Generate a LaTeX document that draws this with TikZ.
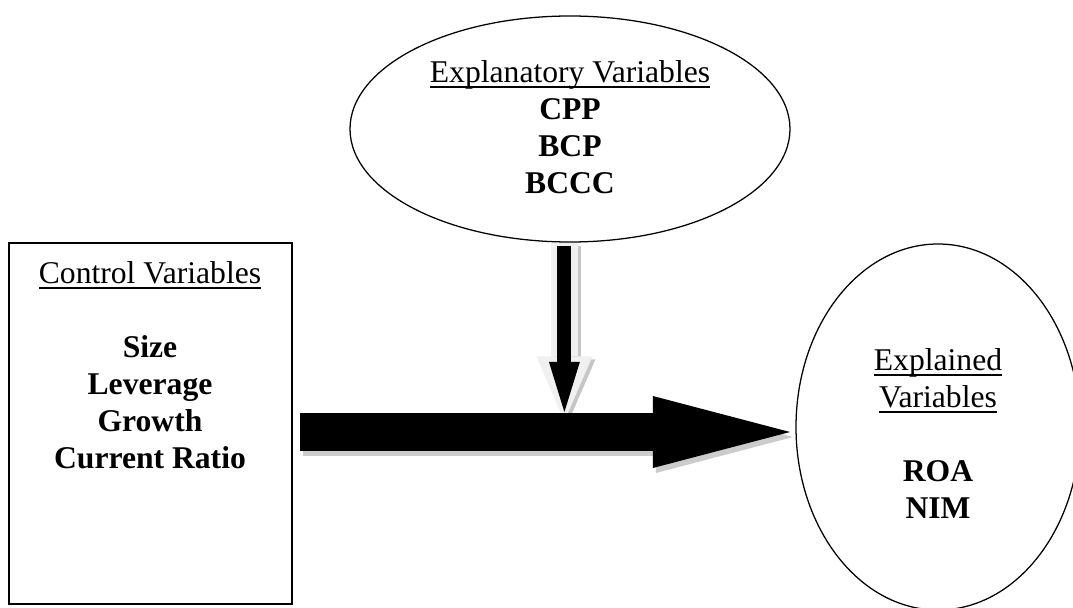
\documentclass[tikz,border=0pt]{standalone}
\usepackage{fontspec}
\setmainfont{Liberation Serif}
\usetikzlibrary{shapes.geometric,arrows.meta,positioning,calc}
% underline at a fixed depth, through the descenders
\newcommand{\undl}[1]{\setbox0\hbox{#1}\rlap{\rule[-3.6pt]{\wd0}{1.1pt}}\box0}

\begin{document}
\begin{tikzpicture}[every node/.style={font=\fontsize{22.5}{26.3}\selectfont}]
\useasboundingbox (0,0) rectangle (26.825,15.175);
% ==== Frames: control box and the two ellipses ====
\node[draw, line width=1.1pt, minimum width=7.075cm, minimum height=9.025cm, inner sep=0pt]
    (ctrl) at (3.7625, 4.5875) {};
\node[draw, ellipse, line width=0.9pt, minimum width=11cm, minimum height=5.65cm, inner sep=0pt]
    (expl) at (14.25, 11.95) {};
\node[draw, ellipse, line width=0.9pt, minimum width=7.1cm, minimum height=9.15cm, inner sep=0pt]
    (resp) at (23.45, 4.5) {};

% ==== Texts, set from the top of each frame ====
\node[anchor=north, align=center, inner sep=0pt]
    (ctrltxt) at (3.75, 8.635) {\undl{Control Variables}\\[26.3pt]
    \textbf{Size}\\ \textbf{Leverage}\\ \textbf{Growth}\\ \textbf{Current Ratio}};
\node[anchor=north, align=center, inner sep=0pt]
    (expltxt) at (14.25, 13.66) {\undl{Explanatory Variables}\\
    \textbf{CPP}\\ \textbf{BCP}\\ \textbf{BCCC}};
\node[anchor=north, align=center, inner sep=0pt]
    (resptxt) at (23.45, 6.46) {\undl{Explained}\\ \undl{Variables}\\[26.3pt]
    \textbf{ROA}\\ \textbf{NIM}};

% ==== Arrow end points ====
\coordinate (vtop)   at ([xshift=-0.14cm]expl.south);
\coordinate (vtip)   at (14.11, 4.65);
\coordinate (vend)   at (14.11, 4.875);
\coordinate (hstart) at (7.5, 4.375);
\coordinate (htip)   at (19.75, 4.375);

% ==== Down arrow: shadow, pale outer body, black core ====
\draw[gray!45, line width=19.2pt, -{Triangle[length=46pt, width=40pt, line width=0pt]}]
    ([shift={(0.075,-0.075)}]vtop) -- ([shift={(0.075,-0.075)}]vtip);
\draw[gray!12, line width=19.2pt, -{Triangle[length=46pt, width=40pt, line width=0pt]}]
    (vtop) -- (vtip);
\draw[black, line width=10pt, -{Triangle[length=35.6pt, width=22pt, line width=0pt]}]
    ([yshift=-0.075cm]vtop) -- (vend);

% ==== Main arrow into the explained variables ====
\draw[gray!40, line width=27.7pt, -{Triangle[length=97.5pt, width=51.2pt, line width=0pt]}]
    ([shift={(0.075,-0.125)}]hstart) -- ([shift={(0.075,-0.125)}]htip);
\draw[black, line width=27.7pt, -{Triangle[length=97.5pt, width=51.2pt, line width=0pt]}]
    (hstart) -- (htip);
\end{tikzpicture}
\end{document}
